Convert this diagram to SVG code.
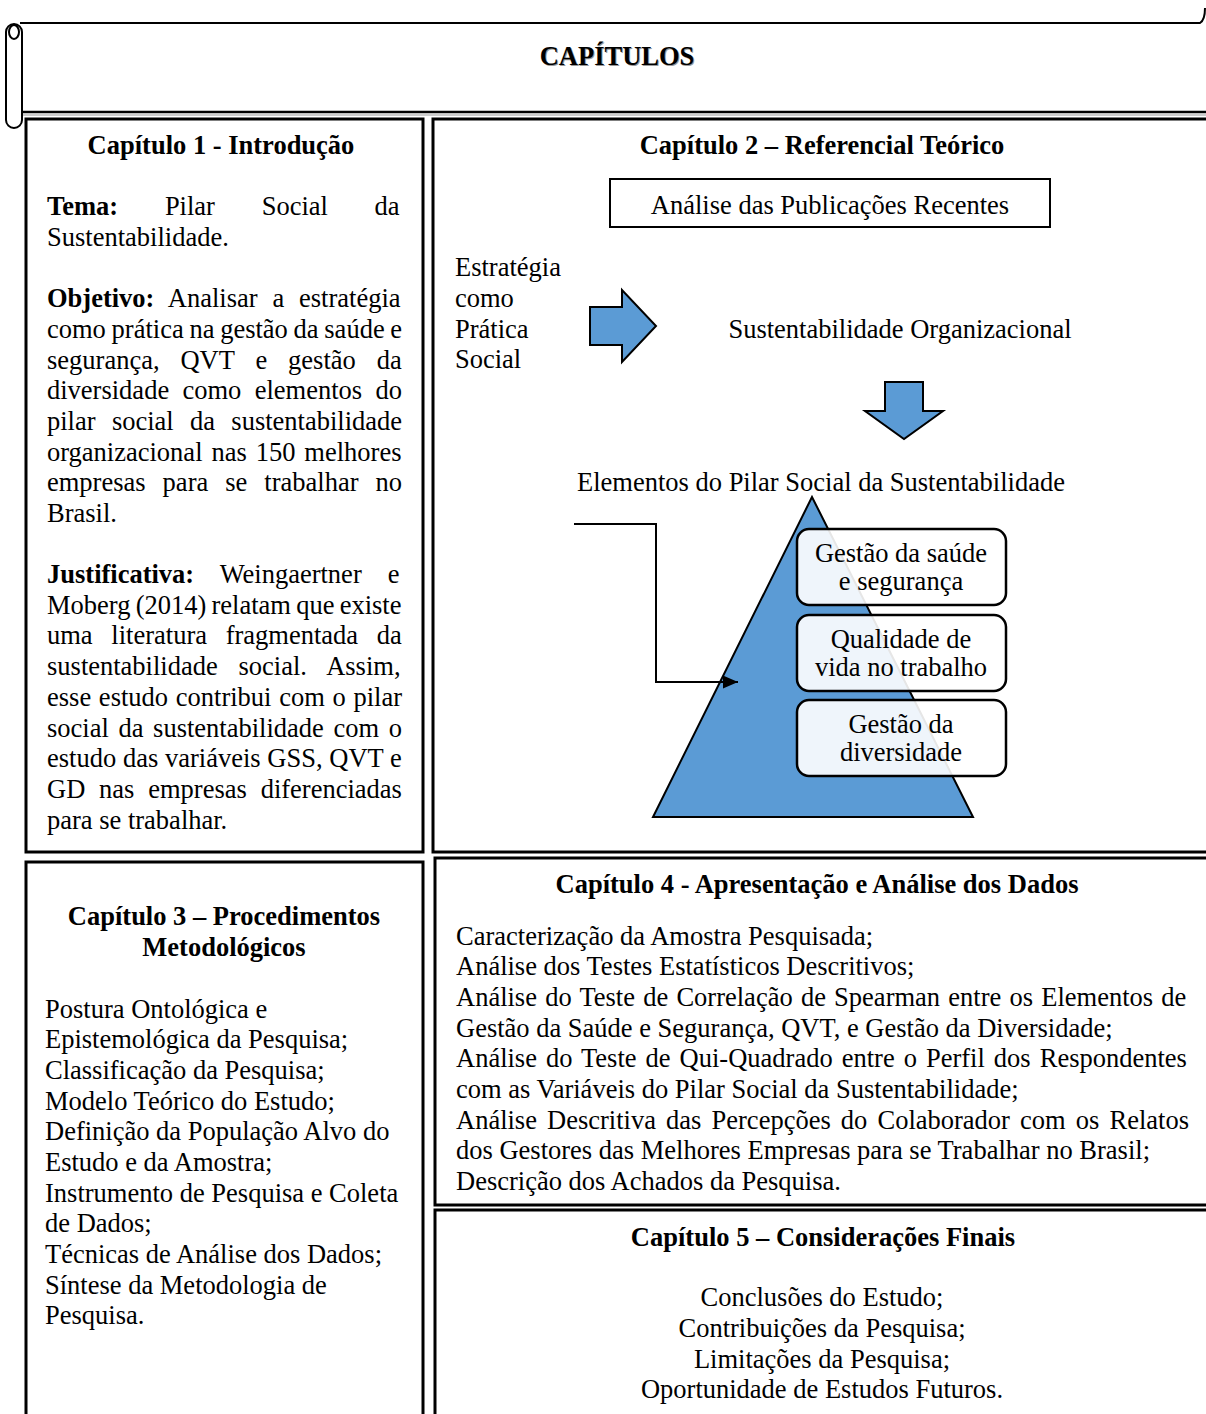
<svg xmlns="http://www.w3.org/2000/svg" width="1206" height="1414" viewBox="0 0 1206 1414">
<style>
text{font-family:"Liberation Serif","Times New Roman",serif;font-size:26.5px;fill:#000}
.b{font-weight:bold}
.c{text-anchor:middle}
.box{fill:none;stroke:#000;stroke-width:3}
.blue{fill:#5B9BD5;stroke:#000;stroke-width:2}
.rb{fill:#fff;fill-opacity:0.9;stroke:#000;stroke-width:2.5}
.ln{fill:none;stroke:#000;stroke-width:2}
</style>
<defs>
<marker id="ah" viewBox="0 0 10 10" refX="10" refY="5" markerWidth="15" markerHeight="13" preserveAspectRatio="none" markerUnits="userSpaceOnUse" orient="auto">
<path d="M0,0 L10,5 L0,10 z" fill="#000"/>
</marker>
</defs>
<rect width="1206" height="1414" fill="#fff"/>

<g id="banner">
<path d="M20,23 L1200,23 Q1205,20 1205,8" class="ln" stroke-width="2.5"/>
<line x1="22" y1="112" x2="1206" y2="112" stroke="#000" stroke-width="2.5"/>
<line x1="22" y1="115" x2="1206" y2="115" stroke="#999" stroke-width="1"/>
<rect x="6" y="24" width="16" height="104" rx="8" fill="#fff" stroke="#000" stroke-width="2"/>
<ellipse cx="14" cy="32" rx="5" ry="7" fill="#fff" stroke="#000" stroke-width="2"/>
<text x="618" y="66" class="b c" style="fill:#999">CAPÍTULOS</text>
<text x="617" y="65" class="b c">CAPÍTULOS</text>
</g>

<g id="cap1">
<rect x="26" y="119" width="397" height="733" class="box"/>
<text x="221" y="154" class="b c">Capítulo 1 - Introdução</text>
<text x="47" y="215" word-spacing="40.1"><tspan class="b">Tema:</tspan> Pilar Social da</text>
<text x="47" y="246">Sustentabilidade.</text>
<text x="47" y="307" word-spacing="8.2"><tspan class="b">Objetivo:</tspan> Analisar a estratégia</text>
<text x="47" y="338" word-spacing="-0.9">como prática na gestão da saúde e</text>
<text x="47" y="369" word-spacing="14.3">segurança, QVT e gestão da</text>
<text x="47" y="399" word-spacing="6.7">diversidade como elementos do</text>
<text x="47" y="430" word-spacing="9.7">pilar social da sustentabilidade</text>
<text x="47" y="461" word-spacing="2.3">organizacional nas 150 melhores</text>
<text x="47" y="491" word-spacing="10.4">empresas para se trabalhar no</text>
<text x="47" y="522">Brasil.</text>
<text x="47" y="583" word-spacing="19.3"><tspan class="b">Justificativa:</tspan> Weingaertner e</text>
<text x="47" y="614" word-spacing="-1.4">Moberg (2014) relatam que existe</text>
<text x="47" y="644" word-spacing="12.1">uma literatura fragmentada da</text>
<text x="47" y="675" word-spacing="14.1">sustentabilidade social. Assim,</text>
<text x="47" y="706" word-spacing="1.1">esse estudo contribui com o pilar</text>
<text x="47" y="737" word-spacing="3.0">social da sustentabilidade com o</text>
<text x="47" y="767" word-spacing="0.1">estudo das variáveis GSS, QVT e</text>
<text x="47" y="798" word-spacing="7.2">GD nas empresas diferenciadas</text>
<text x="47" y="829">para se trabalhar.</text>
</g>

<g id="cap2">
<rect x="433" y="119" width="780" height="733" class="box"/>
<text x="822" y="154" class="b c">Capítulo 2 – Referencial Teórico</text>
</g>

<g id="publicacoes">
<rect x="610" y="179" width="440" height="48" fill="#fff" stroke="#000" stroke-width="2"/>
<text x="830" y="214" class="c">Análise das Publicações Recentes</text>
</g>

<g id="estrategia">
<text x="455" y="276">Estratégia</text>
<text x="455" y="307">como</text>
<text x="455" y="338">Prática</text>
<text x="455" y="368">Social</text>
</g>

<g id="sustentabilidade">
<text x="900" y="338" class="c">Sustentabilidade Organizacional</text>
</g>

<g id="elementos">
<text x="821" y="491" class="c">Elementos do Pilar Social da Sustentabilidade</text>
</g>

<g id="piramide">
<path d="M812,497 L653,817 L973,817 Z" class="blue"/>
</g>

<g id="gss">
<rect x="797" y="529" width="209" height="76" rx="12" class="rb"/>
<text x="901" y="562" class="c">Gestão da saúde</text>
<text x="901" y="590" class="c">e segurança</text>
</g>
<g id="qvt">
<rect x="797" y="615" width="209" height="76" rx="12" class="rb"/>
<text x="901" y="648" class="c">Qualidade de</text>
<text x="901" y="676" class="c">vida no trabalho</text>
</g>
<g id="gd">
<rect x="797" y="700" width="209" height="76" rx="12" class="rb"/>
<text x="901" y="733" class="c">Gestão da</text>
<text x="901" y="761" class="c">diversidade</text>
</g>

<g id="connectors">
<path d="M590,307 L622,307 L622,290 L656,326 L622,362 L622,345 L590,345 Z" class="blue"/>
<path d="M885,382 L923,382 L923,411 L943,411 L904,439 L865,411 L885,411 Z" class="blue"/>
<path d="M574,524 L656,524 L656,682 L738,682" class="ln" marker-end="url(#ah)"/>
</g>

<g id="cap3">
<rect x="26" y="862" width="397" height="560" class="box"/>
<text x="224" y="925" class="b c">Capítulo 3 – Procedimentos</text>
<text x="224" y="956" class="b c">Metodológicos</text>
<text x="45" y="1018">Postura Ontológica e</text>
<text x="45" y="1048">Epistemológica da Pesquisa;</text>
<text x="45" y="1079">Classificação da Pesquisa;</text>
<text x="45" y="1110">Modelo Teórico do Estudo;</text>
<text x="45" y="1140">Definição da População Alvo do</text>
<text x="45" y="1171">Estudo e da Amostra;</text>
<text x="45" y="1202">Instrumento de Pesquisa e Coleta</text>
<text x="45" y="1232">de Dados;</text>
<text x="45" y="1263">Técnicas de Análise dos Dados;</text>
<text x="45" y="1294">Síntese da Metodologia de</text>
<text x="45" y="1324">Pesquisa.</text>
</g>

<g id="cap4">
<rect x="435" y="858" width="778" height="347" class="box"/>
<text x="817" y="893" class="b c">Capítulo 4 - Apresentação e Análise dos Dados</text>
<text x="456" y="945">Caracterização da Amostra Pesquisada;</text>
<text x="456" y="975">Análise dos Testes Estatísticos Descritivos;</text>
<text x="456" y="1006" word-spacing="1.6">Análise do Teste de Correlação de Spearman entre os Elementos de</text>
<text x="456" y="1037">Gestão da Saúde e Segurança, QVT, e Gestão da Diversidade;</text>
<text x="456" y="1067" word-spacing="2.4">Análise do Teste de Qui-Quadrado entre o Perfil dos Respondentes</text>
<text x="456" y="1098">com as Variáveis do Pilar Social da Sustentabilidade;</text>
<text x="456" y="1129" word-spacing="3.5">Análise Descritiva das Percepções do Colaborador com os Relatos</text>
<text x="456" y="1159">dos Gestores das Melhores Empresas para se Trabalhar no Brasil;</text>
<text x="456" y="1190">Descrição dos Achados da Pesquisa.</text>
</g>

<g id="cap5">
<rect x="435" y="1210" width="778" height="212" class="box"/>
<text x="823" y="1246" class="b c">Capítulo 5 – Considerações Finais</text>
<text x="822" y="1306" class="c">Conclusões do Estudo;</text>
<text x="822" y="1337" class="c">Contribuições da Pesquisa;</text>
<text x="822" y="1368" class="c">Limitações da Pesquisa;</text>
<text x="822" y="1398" class="c">Oportunidade de Estudos Futuros.</text>
</g>
</svg>
